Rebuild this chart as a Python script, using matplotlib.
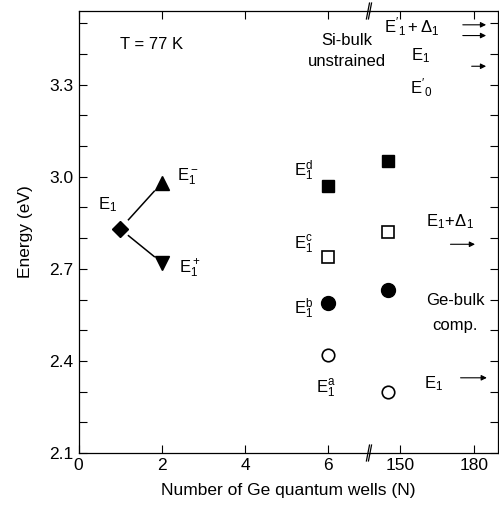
import matplotlib
matplotlib.use("Agg")
import matplotlib.pyplot as plt
from matplotlib.ticker import MultipleLocator, FixedLocator

plt.rcParams["font.family"] = ["Liberation Sans", "DejaVu Sans"]
plt.rcParams["mathtext.fontset"] = "custom"
plt.rcParams["mathtext.rm"] = "Liberation Sans"
plt.rcParams["mathtext.it"] = "Liberation Sans:italic"
plt.rcParams["mathtext.bf"] = "Liberation Sans:bold"

# Messpunkte
n_e1 = [1]
e_e1 = [2.83]
n_split = [2]
e_e1_minus = [2.98]
e_e1_plus = [2.72]

n_wells = [6, 145]
e_e1a = [2.42, 2.30]
e_e1b = [2.59, 2.63]
e_e1c = [2.74, 2.82]
e_e1d = [2.97, 3.05]

# Volumen-Referenzen (Pfeile)
si_bulk = [3.495, 3.46, 3.36]
ge_bulk = [2.78, 2.345]

W, H = 499, 507
fig = plt.figure(figsize=(W / 100, H / 100), dpi=100)
left, split, right = 78.5 / W, 370 / W, 498 / W
bottom, top = (H - 453) / H, (H - 11) / H
ax1 = fig.add_axes([left, bottom, split - left, top - bottom])
ax2 = fig.add_axes([split, bottom, right - split, top - bottom], sharey=ax1)
ax2.patch.set_visible(False)

ax1.set_xlim(0, 7.0)
ax2.set_xlim(137.8, 189.7)
ax1.set_ylim(2.1, 3.54)

for ax in (ax1, ax2):
    for s in ax.spines.values():
        s.set_linewidth(0.9)
    ax.yaxis.set_major_locator(FixedLocator([2.1, 2.4, 2.7, 3.0, 3.3]))
    ax.yaxis.set_minor_locator(MultipleLocator(0.1))
    ax.tick_params(which="both", direction="in", length=5.5, width=0.8,
                   labelsize=12.5, top=True)
ax1.spines["right"].set_visible(False)
ax2.spines["left"].set_visible(False)
ax1.tick_params(which="both", right=False)
ax2.tick_params(which="both", left=False, labelleft=False, right=True)
ax1.set_xticks([0, 2, 4, 6])
ax2.set_xticks([150, 180])

# Messwerte auf beiden Achsen zeichnen, Grenzen schneiden ab
for ax in (ax1, ax2):
    ax.plot(n_wells, e_e1d, "s", ms=8.5, color="k", ls="none")
    ax.plot(n_wells, e_e1c, "s", ms=8, mfc="white", mec="k", mew=1.2, ls="none")
    ax.plot(n_wells, e_e1b, "o", ms=10, color="k", ls="none")
    ax.plot(n_wells, e_e1a, "o", ms=9, mfc="white", mec="k", mew=1.2, ls="none")

ax1.plot(n_e1, e_e1, "D", ms=8, color="k")
ax1.plot(n_split, e_e1_minus, "^", ms=10.5, color="k")
ax1.plot(n_split, e_e1_plus, "v", ms=10.5, color="k")


def gap_line(ax, x0, y0, x1, y1, f0=0.2, f1=0.82):
    ax.plot([x0 + (x1 - x0) * f0, x0 + (x1 - x0) * f1],
            [y0 + (y1 - y0) * f0, y0 + (y1 - y0) * f1], color="k", lw=1.1)


gap_line(ax1, n_e1[0], e_e1[0], n_split[0], e_e1_minus[0])
gap_line(ax1, n_e1[0], e_e1[0], n_split[0], e_e1_plus[0])

fs = 12
ax1.text(1.0, 3.43, "T = 77 K", fontsize=fs, va="center")
ax1.text(0.69, 2.91, r"$\mathrm{E}_1$", fontsize=fs, ha="center", va="center")
ax1.text(2.37, 3.0, r"$\mathrm{E}_1^-$", fontsize=fs, va="center")
ax1.text(2.42, 2.70, r"$\mathrm{E}_1^+$", fontsize=fs, va="center")
ax1.text(5.64, 3.02, r"$\mathrm{E}_1^\mathrm{d}$", fontsize=fs, ha="right", va="center")
ax1.text(5.64, 2.78, r"$\mathrm{E}_1^\mathrm{c}$", fontsize=fs, ha="right", va="center")
ax1.text(5.64, 2.57, r"$\mathrm{E}_1^\mathrm{b}$", fontsize=fs, ha="right", va="center")
ax1.text(5.95, 2.31, r"$\mathrm{E}_1^\mathrm{a}$", fontsize=fs, ha="center", va="center")

ax1.text(6.45, 3.443, "Si-bulk", fontsize=fs, ha="center", va="center", clip_on=False)
ax1.text(6.45, 3.375, "unstrained", fontsize=fs, ha="center", va="center", clip_on=False)
ax2.text(154.9, 3.488, r"$\mathrm{E'}_1 + \Delta_1$", fontsize=fs, ha="center", va="center",
         clip_on=False)
ax2.text(158.5, 3.394, r"$\mathrm{E}_1$", fontsize=fs, ha="center", va="center")
ax2.text(158.3, 3.29, r"$\mathrm{E'}_0$", fontsize=fs, ha="center", va="center")
ax2.text(170.3, 2.853, r"$\mathrm{E}_1\!+\!\Delta_1$", fontsize=fs, ha="center", va="center")
ax2.text(172.3, 2.596, "Ge-bulk", fontsize=fs, ha="center", va="center")
ax2.text(172.3, 2.517, "comp.", fontsize=fs, ha="center", va="center")
ax2.text(163.7, 2.325, r"$\mathrm{E}_1$", fontsize=fs, ha="center", va="center")

arrow = dict(arrowstyle="-|>", color="k", lw=0.8, mutation_scale=8)
for e, x0 in zip(si_bulk, [174.3, 174.3, 177.9]):
    ax2.annotate("", xy=(186.0, e), xytext=(x0, e), arrowprops=arrow)
for e, x0 in zip(ge_bulk, [169.3, 173.4]):
    ax2.annotate("", xy=(181.5 if e > 2.5 else 186.3, e), xytext=(x0, e), arrowprops=arrow)

# Achsenbruch-Markierung
for yy in (0, 1):
    for dx in (-0.016, 0.0):
        ax2.plot([dx - 0.012, dx + 0.012], [yy - 0.018, yy + 0.018],
                 transform=ax2.transAxes, color="k", lw=0.9, clip_on=False)

ax1.set_ylabel("Energy (eV)", fontsize=12.5, labelpad=12)
fig.text((left + right) / 2, 17 / H, "Number of Ge quantum wells (N)",
         fontsize=12.5, ha="center", va="center")

fig.savefig("out.png", dpi=100)
